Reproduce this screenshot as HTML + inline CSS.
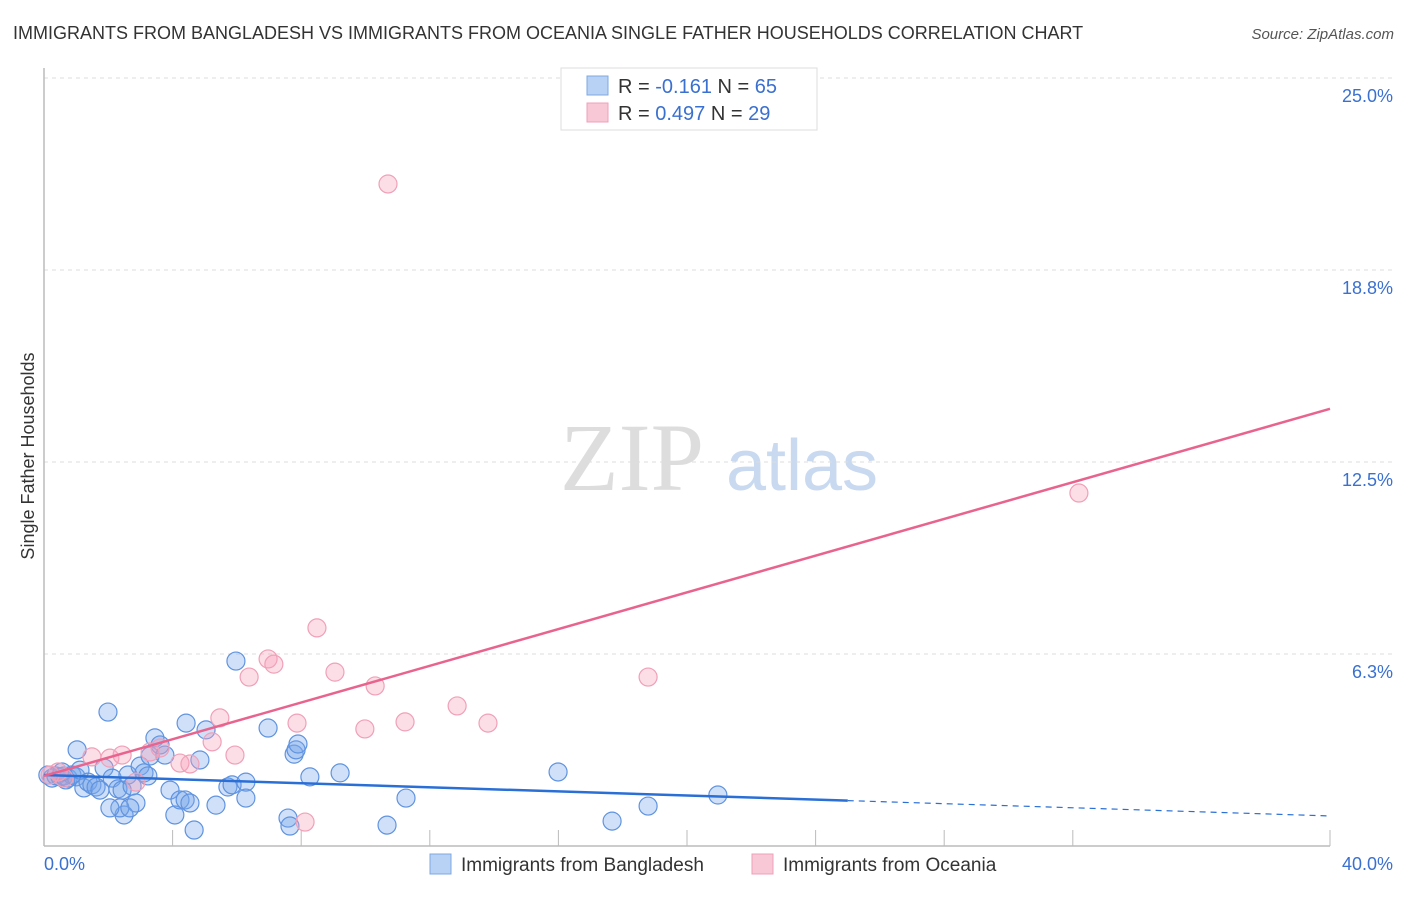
<!DOCTYPE html>
<html><head><meta charset="utf-8"><style>
body{margin:0;background:#fff;font-family:"Liberation Sans",sans-serif}
</style></head><body>
<svg id="chart" width="1406" height="892" xmlns="http://www.w3.org/2000/svg" font-family="Liberation Sans, sans-serif">
<text x="13" y="39" font-size="18" fill="#333">IMMIGRANTS FROM BANGLADESH VS IMMIGRANTS FROM OCEANIA SINGLE FATHER HOUSEHOLDS CORRELATION CHART</text>
<text x="1394" y="39" font-size="15" fill="#555" font-style="italic" text-anchor="end">Source: ZipAtlas.com</text>
<text transform="translate(34,456) rotate(-90)" font-size="18" fill="#333" text-anchor="middle">Single Father Households</text>
<g>
<text x="632" y="490" font-size="96" font-family="Liberation Serif, serif" fill="#ddd" text-anchor="middle">ZIP</text>
<text x="802" y="490" font-size="72" fill="#c8d9f0" text-anchor="middle">atlas</text>
</g>
<g id="grid"></g><g id="axes"></g><g id="pts"></g><g id="lines"></g>
<g>
<rect x="561" y="68" width="256" height="62" fill="#fff" stroke="#ddd"/>
<rect x="587" y="76" width="21" height="19" fill="#b8d2f5" stroke="#7fa8e0"/>
<rect x="587" y="103" width="21" height="19" fill="#f9c8d6" stroke="#eea0b8"/>
<text x="618" y="93" font-size="20" fill="#333">R = <tspan fill="#3a70d0">-0.161</tspan>   N = <tspan fill="#3a70d0">65</tspan></text>
<text x="618" y="120" font-size="20" fill="#333">R = <tspan fill="#3a70d0">0.497</tspan>    N = <tspan fill="#3a70d0">29</tspan></text>
</g>
<g>
<rect x="430" y="854" width="21" height="20" fill="#b8d2f5" stroke="#7fa8e0"/>
<text x="461" y="871" font-size="19" fill="#333">Immigrants from Bangladesh</text>
<rect x="752" y="854" width="21" height="20" fill="#f9c8d6" stroke="#eea0b8"/>
<text x="783" y="871" font-size="19" fill="#333">Immigrants from Oceania</text>
</g>
</svg>
<script>
const blueX=[0.12,0.25,0.37,0.50,0.62,0.75,0.87,1.00,1.12,1.24,1.37,1.49,1.62,1.74,1.87,1.99,2.12,2.30,2.43,2.61,2.74,2.86,2.99,3.11,3.23,3.30,3.45,3.61,3.76,3.92,4.07,4.23,4.39,4.42,4.54,4.67,4.85,5.04,5.35,5.72,5.85,5.97,6.28,6.28,6.97,7.59,7.65,7.78,7.84,7.90,8.27,9.21,10.67,11.26,15.99,17.67,18.79,20.96,2.49,2.36,2.67,0.68,0.56,1.03,2.05];
const blueY=[2.31,2.21,2.28,2.25,2.28,2.21,2.31,2.25,2.47,1.89,2.08,1.99,1.92,1.82,2.54,4.36,2.21,1.86,1.82,2.31,1.95,1.40,2.60,2.38,2.28,2.93,3.52,3.29,2.96,1.82,1.01,1.50,1.50,4.00,1.40,0.52,2.80,3.78,1.33,1.92,1.99,6.02,2.08,1.56,3.84,0.91,0.65,2.99,3.13,3.32,2.25,2.38,0.68,1.56,2.41,0.81,1.30,1.66,1.01,1.24,1.24,2.15,2.41,3.13,1.24];
const pinkX=[0.19,0.44,0.62,1.49,2.05,2.43,2.86,3.30,3.61,4.23,4.54,5.23,5.47,5.94,6.38,6.97,7.15,7.87,8.12,8.49,9.05,9.98,10.30,10.70,11.23,12.85,13.81,18.79,32.19];
const pinkY=[2.31,2.41,2.21,2.90,2.86,2.96,2.08,3.06,3.19,2.70,2.67,3.39,4.17,2.96,5.50,6.09,5.92,4.00,0.78,7.10,5.66,3.81,5.21,21.55,4.04,4.56,4.00,5.50,11.49];
const blueTrend=[2.31,-0.0333]; // intercept, slope
const pinkTrend=[2.28,0.2988];
const yTicks=[6.25,12.5,18.75,25];
const yTickLabels=["6.3%","12.5%","18.8%","25.0%"];
const xTicks=[4,8,12,16,20,24,28,32,40];
const NS="http://www.w3.org/2000/svg";
const X=v=>44+v*32.15, Y=v=>846-v*30.72;
function mk(t,a,p){const e=document.createElementNS(NS,t);for(const k in a)e.setAttribute(k,a[k]);p.appendChild(e);return e;}
const grid=document.getElementById('grid'),axes=document.getElementById('axes'),pts=document.getElementById('pts'),lines=document.getElementById('lines');
yTicks.forEach((v,i)=>{
 const l=mk('line',{x1:44,x2:1394,y1:Y(v),y2:Y(v),stroke:'#ddd','stroke-dasharray':'4,4'},grid);
 
 
 const t=mk('text',{x:1393,y:Y(v)+24,'font-size':18,fill:'#3a70d0','text-anchor':'end'},grid);
 t.textContent=yTickLabels[i];
 
 
});
const la=mk('line',{x1:44,x2:44,y1:68,y2:846,stroke:'#bbb','stroke-width':1.5},axes);


const ba=mk('line',{x1:44,x2:1330,y1:846,y2:846,stroke:'#bbb','stroke-width':1.5},axes);


xTicks.forEach(v=>{const t=mk('line',{x1:X(v),x2:X(v),y1:830,y2:846,stroke:'#bbb'},axes);
 
 });
const x0=mk('text',{x:44,y:870,'font-size':18,fill:'#3a70d0'},axes);x0.textContent='0.0%';


const x1=mk('text',{x:1393,y:870,'font-size':18,fill:'#3a70d0','text-anchor':'end'},axes);x1.textContent='40.0%';


blueX.forEach((v,i)=>{const c=mk('circle',{cx:X(v),cy:Y(blueY[i]),r:9,fill:'rgba(120,165,235,0.35)',stroke:'#5f93e0','stroke-width':1.2},pts);
 
 });
pinkX.forEach((v,i)=>{const c=mk('circle',{cx:X(v),cy:Y(pinkY[i]),r:9,fill:'rgba(245,160,185,0.35)',stroke:'#f0a0b8','stroke-width':1.2},pts);
 
 });
const bs=mk('line',{x1:X(0),y1:Y(blueTrend[0]),x2:X(25),y2:Y(blueTrend[0]+blueTrend[1]*25),stroke:'#2a6fd6','stroke-width':2.5},lines);


const bd=mk('line',{x1:X(25),y1:Y(blueTrend[0]+blueTrend[1]*25),x2:X(40),y2:Y(blueTrend[0]+blueTrend[1]*40),stroke:'#2a6fd6','stroke-width':1.2,'stroke-dasharray':'6,5'},lines);


const ps=mk('line',{x1:X(0),y1:Y(pinkTrend[0]),x2:X(40),y2:Y(pinkTrend[0]+pinkTrend[1]*40),stroke:'#e8648e','stroke-width':2.5},lines);


</script>
</body></html>
